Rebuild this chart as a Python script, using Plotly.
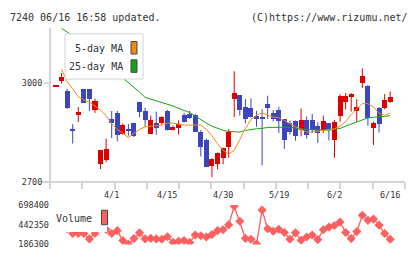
import plotly.graph_objects as go
import numpy as np

# ---------------- data ----------------
idx = list(range(61))
date_labels = ["4/1", "4/15", "4/30", "5/19", "6/2", "6/16"]
date_label_idx = [10, 20, 30, 40, 50, 60]

open_ = [2990, 3006, 2975, 2857, 2902, 2980, 2980, 2917, 2753, 2767,
         2889, 2907, 2846, 2860, 2878, 2942, 2913, 2846, 2878, 2878,
         2915, 2857, 2864, 2901, 2906, 2903, 2850, 2828, 2749, 2753,
         2772, 2806, 2950, 2962, 2927, 2924, 2899, 2894, 2935, 2909,
         2918, 2889, 2877, 2884, 2857, 2886, 2886, 2870, 2857, 2878,
         2828, 2899, 2943, 2959, 2914, 2998, 2991, 2864, 2922, 2922, 2943]
high = [2993, 3030, 2982, 2875, 2927, 2981, 2981, 2952, 2798, 2831,
        2915, 2915, 2877, 2875, 2879, 2943, 2925, 2901, 2913, 2899,
        2918, 2870, 2886, 2909, 2915, 2906, 2857, 2831, 2772, 2789,
        2804, 2860, 3035, 2963, 2951, 2953, 2915, 2920, 2961, 2918,
        2928, 2890, 2886, 2886, 2922, 2898, 2906, 2881, 2901, 2878,
        2888, 2966, 2969, 2969, 2951, 3044, 2994, 2882, 2927, 2966, 2974]
low = [2989, 2998, 2921, 2816, 2881, 2939, 2915, 2909, 2739, 2760,
       2833, 2823, 2843, 2840, 2836, 2896, 2867, 2845, 2843, 2872,
       2856, 2856, 2843, 2880, 2891, 2851, 2777, 2745, 2714, 2738,
       2753, 2773, 2896, 2901, 2877, 2895, 2867, 2750, 2891, 2883,
       2848, 2800, 2843, 2825, 2838, 2831, 2848, 2818, 2848, 2825,
       2773, 2882, 2920, 2913, 2882, 2984, 2870, 2812, 2850, 2920, 2940]
close = [2992, 3017, 2922, 2854, 2910, 2940, 2952, 2945, 2796, 2799,
         2879, 2841, 2872, 2856, 2840, 2911, 2886, 2886, 2864, 2895,
         2857, 2867, 2874, 2882, 2893, 2852, 2804, 2746, 2770, 2787,
         2802, 2850, 2969, 2918, 2889, 2896, 2891, 2892, 2922, 2891,
         2884, 2825, 2852, 2838, 2886, 2843, 2857, 2848, 2884, 2857,
         2882, 2959, 2959, 2965, 2925, 3020, 2893, 2877, 2874, 2947, 2956]

ma5 = [None, 3041, 3003, 2982, 2958, 2948, 2942, 2930, 2917, 2901,
       2876, 2859, 2848, 2835, 2847, 2859, 2867, 2868, 2870, 2873,
       2878, 2878, 2875, 2872, 2872, 2873, 2872, 2859, 2840, 2816,
       2796, 2784, 2796, 2828, 2862, 2889, 2902, 2909, 2902, 2896,
       2895, 2885, 2876, 2867, 2859, 2851, 2851, 2853, 2857, 2859,
       2861, 2869, 2883, 2904, 2921, 2938, 2937, 2927, 2908, 2902, 2909]
ma25 = [None, 3165, 3154, 3145, 3134, 3121, 3107, 3091, 3074, 3057,
        3041, 3027, 3015, 3001, 2988, 2972, 2956, 2951, 2946, 2940,
        2935, 2930, 2923, 2917, 2910, 2900, 2888, 2878, 2869, 2862,
        2856, 2853, 2851, 2851, 2856, 2859, 2861, 2862, 2865, 2865,
        2865, 2866, 2866, 2863, 2860, 2859, 2858, 2857, 2857, 2857,
        2859, 2862, 2869, 2875, 2882, 2889, 2894, 2896, 2896, 2898, 2901]

volume = [420000, 450000, 390000, 327400, 327400, 327400, 257500, 327400, 400000, 380000,
          327400, 364900, 236300, 190000, 261200, 336200, 257500, 265000, 257500, 252500,
          286200, 215000, 227500, 236300, 211300, 307400, 298700, 282500, 315000, 364900,
          377400, 440000, 682000, 486000, 265000, 252500, 190000, 632200, 390000, 357400,
          382400, 340000, 252500, 336200, 240000, 282500, 307400, 248700, 377400, 411100,
          432300, 477300, 340000, 261200, 352400, 565000, 498500, 515000, 436100, 327400, 252500]

vol_ticks = [186300, 442350, 698400]
price_ticks = [2700, 3000]

# ---------------- geometry helpers ----------------
W, H = 420, 259
def px(x): return x / W
def py(y): return 1 - y / H

RED = "#dc0000"
BLUE = "#3c46be"
ORANGE = "#f08c14"
GREEN = "#14a514"
VOLC = "#ff5f5f"
AXC = "#d4d4d4"
TXT = "#333333"
FONT = "DejaVu Sans Mono"

x_lo = (50 - 56) / 5.57
x_hi = (405 - 56) / 5.57
y_top = 3000 + (81 - 22) * 300 / 103

fig = go.Figure()

# candle bodies
up = [c >= o for o, c in zip(open_, close)]
colors = [RED if u else BLUE for u in up]
base = [min(o, c) for o, c in zip(open_, close)]
hgt = [max(abs(c - o), 2.5) for o, c in zip(open_, close)]

# wicks
for col in (RED, BLUE):
    wx, wy = [], []
    for i in idx:
        if colors[i] == col:
            wx += [i, i, None]
            wy += [low[i], high[i], None]
    fig.add_trace(go.Scatter(x=wx, y=wy, mode="lines", line=dict(color=col, width=1),
                             showlegend=False, hoverinfo="skip", xaxis="x", yaxis="y"))

fig.add_trace(go.Bar(x=idx, y=hgt, base=base, width=0.9, marker=dict(color=colors, line=dict(width=0)),
                     showlegend=False, xaxis="x", yaxis="y"))

fig.add_trace(go.Scatter(x=idx, y=ma25, mode="lines", line=dict(color=GREEN, width=1),
                         showlegend=False, xaxis="x", yaxis="y"))
fig.add_trace(go.Scatter(x=idx, y=ma5, mode="lines", line=dict(color=ORANGE, width=1),
                         showlegend=False, xaxis="x", yaxis="y"))

fig.add_trace(go.Scatter(x=idx, y=volume, mode="lines+markers",
                         line=dict(color=VOLC, width=1.3),
                         marker=dict(symbol="diamond", size=7, color=VOLC),
                         showlegend=False, xaxis="x2", yaxis="y2"))

main_dom_y = [py(184), py(22)]
vol_dom_y = [py(249), py(208)]
dom_x = [px(50), px(405)]

fig.update_layout(
    width=W, height=H, margin=dict(l=0, r=0, t=0, b=0),
    paper_bgcolor="white", plot_bgcolor="white",
    font=dict(family=FONT, color=TXT, size=9),
    bargap=0,
    xaxis=dict(domain=dom_x, range=[x_lo, x_hi], anchor="y",
               tickmode="array", tickvals=list(np.linspace(x_lo, x_hi, 12)),
               showticklabels=False, ticks="outside", ticklen=6, tickwidth=2, tickcolor=AXC,
               showgrid=False, zeroline=False, showline=False),
    yaxis=dict(domain=main_dom_y, range=[2700, y_top], anchor="x",
               tickmode="array", tickvals=price_ticks, ticktext=[str(v) for v in price_ticks],
               ticks="outside", ticklen=5, tickwidth=2, tickcolor=AXC,
               tickfont=dict(size=8.5, family=FONT, color=TXT),
               showgrid=False, zeroline=False, showline=False),
    xaxis2=dict(domain=dom_x, range=[x_lo, x_hi], anchor="y2", visible=False),
    yaxis2=dict(domain=vol_dom_y, range=[vol_ticks[0], vol_ticks[-1]], anchor="x2",
                tickmode="array", tickvals=vol_ticks, ticktext=[str(v) for v in vol_ticks],
                ticks="", tickfont=dict(size=8.5, family=FONT, color=TXT),
                showgrid=False, zeroline=False, showline=False),
)

shapes = [
    # axis lines
    dict(type="line", xref="paper", yref="paper", x0=px(42), x1=px(405), y0=py(184), y1=py(184),
         line=dict(color=AXC, width=2), layer="above"),
    dict(type="line", xref="paper", yref="paper", x0=px(50), x1=px(50), y0=py(24), y1=py(184),
         line=dict(color=AXC, width=2), layer="above"),
    # MA legend box
    dict(type="rect", xref="paper", yref="paper", x0=px(65), x1=px(143), y0=py(77), y1=py(30),
         fillcolor="white", line=dict(color=AXC, width=1), layer="above"),
    dict(type="rect", xref="paper", yref="paper", x0=px(131), x1=px(137), y0=py(51), y1=py(38),
         fillcolor=ORANGE, line=dict(color="#444444", width=1), layer="above"),
    dict(type="rect", xref="paper", yref="paper", x0=px(131), x1=px(137), y0=py(70), y1=py(57),
         fillcolor=GREEN, line=dict(color="#444444", width=1), layer="above"),
    # Volume legend
    dict(type="rect", xref="paper", yref="paper", x0=px(52), x1=px(107), y0=py(236), y1=py(203),
         fillcolor="white", line=dict(width=0), layer="above"),
    dict(type="rect", xref="paper", yref="paper", x0=px(101.5), x1=px(107.5), y0=py(228.5), y1=py(213.5),
         fillcolor=VOLC, line=dict(color="#444444", width=1), layer="above"),
]
fig.update_layout(shapes=shapes)

ann = [
    dict(text="7240 06/16 16:58 updated.", x=px(8), y=py(13), xanchor="left", yanchor="middle",
         font=dict(size=10, family=FONT, color=TXT)),
    dict(text="(C)https://www.rizumu.net/", x=px(410), y=py(13), xanchor="right", yanchor="middle",
         font=dict(size=10, family=FONT, color=TXT)),
    dict(text="5-day MA", x=px(125), y=py(45), xanchor="right", yanchor="middle",
         font=dict(size=10, family=FONT, color=TXT)),
    dict(text="25-day MA", x=px(125), y=py(63.5), xanchor="right", yanchor="middle",
         font=dict(size=10, family=FONT, color=TXT)),
    dict(text="Volume", x=px(94), y=py(222), xanchor="right", yanchor="middle",
         font=dict(size=10, family=FONT, color=TXT)),
]
for a in ann:
    a.update(xref="paper", yref="paper", showarrow=False)
for lab, i in zip(date_labels, date_label_idx):
    ann.append(dict(text=lab, x=i, xref="x", y=py(198), yref="paper", xanchor="center",
                    yanchor="middle", showarrow=False, font=dict(size=8.5, family=FONT, color=TXT)))
fig.update_layout(annotations=ann)

fig.write_html("out.html")
